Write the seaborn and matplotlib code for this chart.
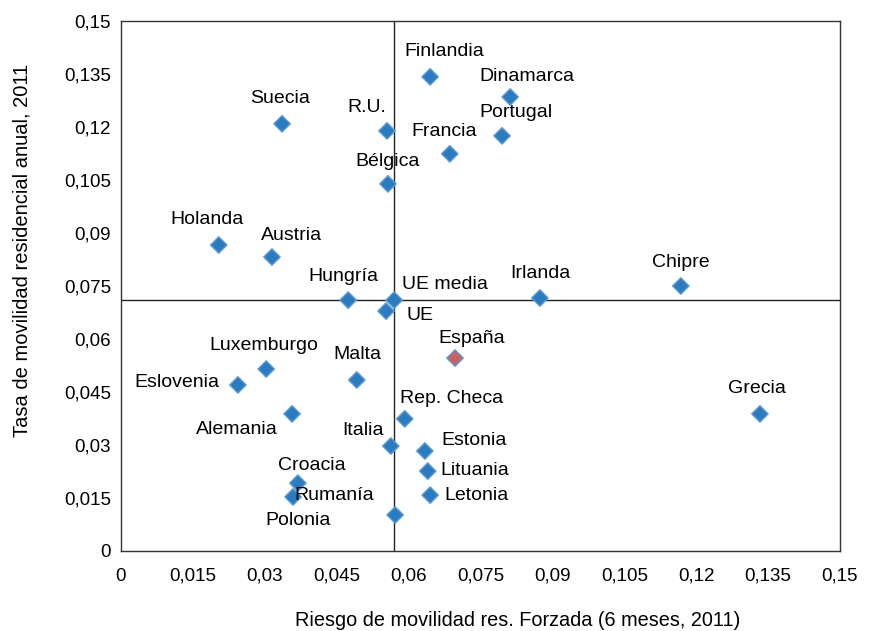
import matplotlib
matplotlib.use("Agg")
import matplotlib.pyplot as plt
import pandas as pd
import seaborn as sns

paises = ["Finlandia", "Dinamarca", "Suecia", "R.U.", "Portugal", "Francia", "Bélgica",
          "Holanda", "Austria", "Hungría", "UE media", "UE", "Irlanda", "Chipre", "España",
          "Luxemburgo", "Malta", "Eslovenia", "Grecia", "Alemania", "Rep. Checa", "Italia",
          "Estonia", "Lituania", "Croacia", "Letonia", "Polonia", "Rumanía"]
riesgo = [0.0645, 0.0812, 0.0336, 0.0555, 0.0795, 0.0686, 0.0557,
          0.0204, 0.0315, 0.0474, 0.0570, 0.0553, 0.0874, 0.1168, 0.0697,
          0.0303, 0.0492, 0.0244, 0.1333, 0.0357, 0.0592, 0.0563,
          0.0634, 0.0640, 0.0369, 0.0645, 0.0359, 0.0572]
tasa = [0.1342, 0.1285, 0.1209, 0.1189, 0.1175, 0.1124, 0.1039,
        0.0866, 0.0832, 0.0710, 0.0710, 0.0679, 0.0716, 0.0750, 0.0546,
        0.0515, 0.0484, 0.0470, 0.0388, 0.0388, 0.0374, 0.0297,
        0.0283, 0.0226, 0.0192, 0.0158, 0.0153, 0.0102]

ue_media_x = 0.0570
ue_media_y = 0.0711

ticks = [0, 0.015, 0.03, 0.045, 0.06, 0.075, 0.09, 0.105, 0.12, 0.135, 0.15]
tick_labels = ["0", "0,015", "0,03", "0,045", "0,06", "0,075", "0,09", "0,105", "0,12", "0,135", "0,15"]

# desplazamiento de cada etiqueta (en pixeles) respecto a su punto
offsets = {
    "Finlandia": (14, 25), "Dinamarca": (17, 20), "Suecia": (-2, 25), "R.U.": (-20, 23),
    "Portugal": (14, 23), "Francia": (-6, 22), "Bélgica": (0, 22), "Holanda": (-12, 26),
    "Austria": (20, 22), "Hungría": (-5, 24), "UE media": (51, 16), "UE": (34, -4),
    "Irlanda": (0, 25), "Chipre": (0, 24), "España": (17, 20), "Luxemburgo": (-2, 24),
    "Malta": (1, 25), "Eslovenia": (-61, 2), "Grecia": (-3, 25), "Alemania": (-55, -16),
    "Rep. Checa": (47, 20), "Italia": (-28, 16), "Estonia": (49, 11), "Lituania": (47, 1),
    "Croacia": (14, 18), "Letonia": (46, 0), "Polonia": (5, -24), "Rumanía": (-61, 19),
}

df = pd.DataFrame({"pais": paises, "riesgo": riesgo, "tasa": tasa})
df["grupo"] = ["España" if p == "España" else "otros" for p in paises]

sns.set_style("white")
plt.rcParams["font.family"] = ["Liberation Sans", "DejaVu Sans"]

fig = plt.figure(figsize=(8.69, 6.31), dpi=100)
ax = fig.add_axes([0.1392, 0.1268, 0.8274, 0.8399])

ax.axvline(ue_media_x, color="#222222", lw=1, zorder=1)
ax.axhline(ue_media_y, color="#222222", lw=1, zorder=1)

sns.scatterplot(data=df, x="riesgo", y="tasa", hue="grupo",
                palette={"otros": "#2a7cc0", "España": "#c8615f"},
                marker="D", s=70, edgecolor="#5d9ad3", linewidth=1.0,
                legend=False, zorder=3, ax=ax)

for p, x, y in zip(paises, riesgo, tasa):
    dx, dy = offsets[p]
    ax.annotate(p, (x, y), xytext=(dx * 0.72, dy * 0.72), textcoords="offset points",
                ha="center", va="center", fontsize=14, color="black")

ax.set_xlim(0, 0.15)
ax.set_ylim(0, 0.15)
ax.set_xticks(ticks)
ax.set_xticklabels(tick_labels)
ax.set_yticks(ticks)
ax.set_yticklabels(tick_labels)
ax.tick_params(labelsize=13.5, length=0, labelcolor="black")
ax.tick_params(axis="x", pad=12)
ax.tick_params(axis="y", pad=7)

for s in ax.spines.values():
    s.set_color("#333333")
    s.set_linewidth(1)

ax.set_xlabel("Riesgo de movilidad res. Forzada (6 meses, 2011)", fontsize=14.3, color="black")
ax.set_ylabel("Tasa de movilidad residencial anual, 2011", fontsize=14.5, color="black")
ax.xaxis.set_label_coords(0.552, -0.113)
ax.yaxis.set_label_coords(-0.124, 0.568)

fig.savefig("out.png", dpi=100)
